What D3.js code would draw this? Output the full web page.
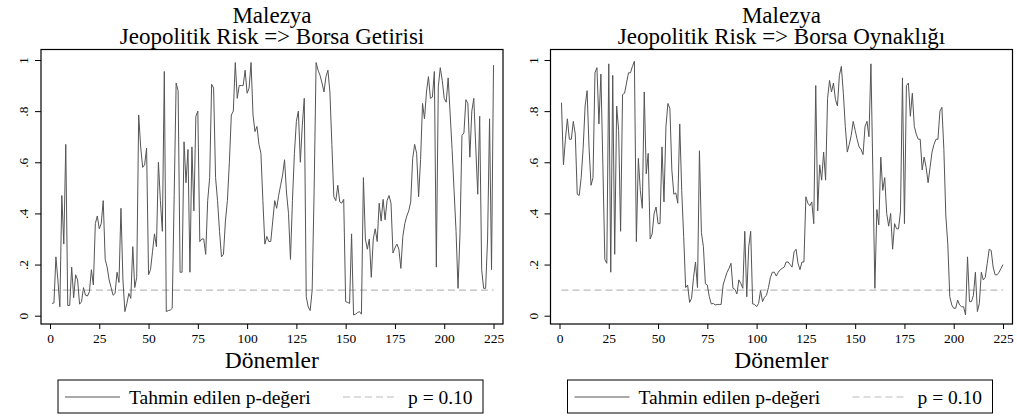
<!DOCTYPE html>
<html><head><meta charset="utf-8">
<script src="https://cdn.jsdelivr.net/npm/d3@7"></script>
<style>body{margin:0;background:#fff}svg{display:block}text{font-family:"Liberation Serif","Times New Roman",serif;fill:#000}</style>
</head><body>
<script>
const country = "Malezya";
const panelTitles = ["Jeopolitik Risk => Borsa Getirisi", "Jeopolitik Risk => Borsa Oynaklığı"];
const xTicks = [0,25,50,75,100,125,150,175,200,225];
const yTicks = [0,0.2,0.4,0.6,0.8,1];
const yTickLabels = ["0",".2",".4",".6",".8","1"];
const xTitle = "Dönemler";
const legendLabels = ["Tahmin edilen p-değeri","p = 0.10"];
const threshold = 0.10;
const periods = d3.range(1,226);
const pReturn = [.048,.05,.23,.14,.035,.47,.28,.67,.04,.04,.19,.07,.16,.14,.045,.055,.11,.08,.077,.094,
.18,.12,.36,.39,.34,.36,.45,.22,.19,.14,.11,.08,.087,.17,.13,.42,.14,.016,.048,.087,
.068,.27,.11,.15,.785,.66,.58,.59,.655,.16,.18,.25,.32,.27,.6,.45,.33,.955,.016,.02,
.022,.029,.47,.91,.88,.17,.17,.68,.52,.65,.17,.66,.41,.78,.80,.29,.3,.3,.24,.45,
.54,.905,.89,.54,.45,.33,.23,.24,.37,.45,.6,.785,.8,.99,.85,.9,.9,.9,.96,.87,
.89,.99,.785,.72,.74,.67,.635,.45,.28,.31,.29,.29,.37,.45,.42,.47,.51,.55,.61,.48,
.4,.22,.45,.635,.76,.80,.6,.745,.85,.074,.035,.02,.1,.49,.99,.96,.94,.91,.875,.935,
.96,.875,.67,.465,.45,.51,.445,.44,.455,.055,.052,.048,.32,.003,.006,.012,.016,.006,.54,.3,
.26,.3,.15,.3,.34,.29,.44,.37,.455,.375,.45,.47,.44,.245,.265,.28,.26,.185,.31,.36,
.39,.41,.445,.615,.67,.635,.465,.61,.83,.77,.875,.935,.85,.855,.955,.19,.895,.97,.92,.85,
.835,.93,.79,.65,.49,.33,.107,.32,.705,.715,.845,.83,.62,.80,.85,.66,.475,.78,.18,.107,
.107,.3,.77,.18,.98];
const pVolatility = [.833,.59,.69,.77,.69,.69,.76,.71,.475,.47,.54,.655,.82,.88,.655,.51,.54,.95,.97,.75,
.945,.59,.22,.205,.985,.17,.94,.24,.82,.725,.33,.865,.87,.91,.95,.95,.975,.995,.29,.615,
.49,.42,.875,.555,.635,.30,.32,.40,.425,.36,.36,.66,.445,.74,.83,.81,.57,.475,.48,.44,
.75,.49,.31,.11,.12,.052,.068,.15,.21,.11,.645,.325,.27,.125,.12,.074,.046,.048,.042,.044,
.044,.044,.12,.146,.17,.185,.205,.107,.103,.085,.14,.126,.107,.33,.074,.27,.33,.046,.044,.035,
.048,.098,.055,.072,.08,.11,.15,.17,.17,.155,.17,.18,.185,.19,.21,.21,.2,.19,.25,.26,
.205,.18,.21,.21,.465,.44,.43,.445,.36,.9,.41,.59,.53,.64,.53,.85,.92,.875,.91,.845,
.82,.94,.975,.87,.74,.64,.67,.705,.76,.725,.69,.66,.65,.63,.74,.76,.70,.985,.55,.107,
.415,.355,.62,.49,.54,.4,.35,.4,.26,.36,.34,.34,.41,.93,.36,.9,.91,.78,.87,.74,
.71,.69,.69,.57,.62,.58,.52,.58,.64,.67,.69,.69,.8,.815,.65,.39,.28,.075,.042,.029,
.029,.061,.042,.035,.035,.003,.23,.055,.055,.08,.17,.016,.048,.17,.14,.15,.205,.26,.255,.19,
.16,.16,.17,.185,.2];
const series = [pReturn, pVolatility];

const W=1017,H=419;
const svg=d3.select("body").append("svg").attr("width",W).attr("height",H);
const y=d3.scaleLinear().domain([0,1]).range([315.7,60]);
const frameTop=49.5, frameBot=324;
const lineCol="#555", dashCol="#bbb";

series.forEach((vals,k)=>{
  const off=k*509.5;
  const g=svg.append("g");
  const x=d3.scaleLinear().domain([0,225]).range([50+off,493.5+off]);
  const fl=41+off, fr=503+off;
  const cx=(fl+fr)/2;
  g.append("text").attr("x",cx).attr("y",22.5).attr("text-anchor","middle").style("font-size","23px").text(country);
  g.append("text").attr("x",cx).attr("y",43.5).attr("text-anchor","middle").style("font-size","23px").text(panelTitles[k]);
  g.append("line").attr("x1",x(1)).attr("x2",x(225)).attr("y1",y(threshold)).attr("y2",y(threshold))
    .attr("stroke",dashCol).attr("stroke-width",1.2).attr("stroke-dasharray","7,4");
  const line=d3.line().x((d,i)=>x(periods[i])).y(d=>y(d));
  g.append("path").datum(vals).attr("d",line).attr("fill","none").attr("stroke",lineCol).attr("stroke-width",1);
  g.append("rect").attr("x",fl).attr("y",frameTop).attr("width",fr-fl).attr("height",frameBot-frameTop)
    .attr("fill","none").attr("stroke","#000").attr("stroke-width",1.2);
  const xa=g.append("g").attr("transform",`translate(0,${frameBot})`)
    .call(d3.axisBottom(x).tickValues(xTicks).tickSize(5).tickPadding(4).tickFormat(d3.format("d")));
  xa.select(".domain").remove();
  xa.attr("font-family",null);
  xa.selectAll("line").attr("stroke","#000");
  xa.selectAll("text").style("font-size","13.5px");
  const ya=g.append("g").attr("transform",`translate(${fl},0)`)
    .call(d3.axisLeft(y).tickValues(yTicks).tickSize(6).tickFormat((d,i)=>yTickLabels[i]));
  ya.select(".domain").remove();
  ya.attr("font-family",null);
  ya.selectAll("line").attr("stroke","#000");
  ya.selectAll("text").attr("x",null).attr("y",null).attr("dy",null).attr("text-anchor","middle")
    .attr("transform","translate(-13,0) rotate(-90)")
    .style("font-size","13.5px");
  g.append("text").attr("x",(x(0)+x(225))/2).attr("y",368).attr("text-anchor","middle").style("font-size","23.5px").text(xTitle);
  const lx=58+off, lw=425;
  g.append("rect").attr("x",lx).attr("y",380).attr("width",lw).attr("height",33).attr("fill","none").attr("stroke","#000").attr("stroke-width",1);
  g.append("line").attr("x1",lx+7).attr("x2",lx+62).attr("y1",397).attr("y2",397).attr("stroke",lineCol).attr("stroke-width",1);
  g.append("text").attr("x",lx+71).attr("y",403.5).style("font-size","19.5px").text(legendLabels[0]);
  g.append("line").attr("x1",lx+285).attr("x2",lx+340).attr("y1",397).attr("y2",397).attr("stroke",dashCol).attr("stroke-width",1.2).attr("stroke-dasharray","7,4");
  g.append("text").attr("x",lx+350).attr("y",403.5).style("font-size","19.5px").text(legendLabels[1]);
});
</script>
</body></html>
